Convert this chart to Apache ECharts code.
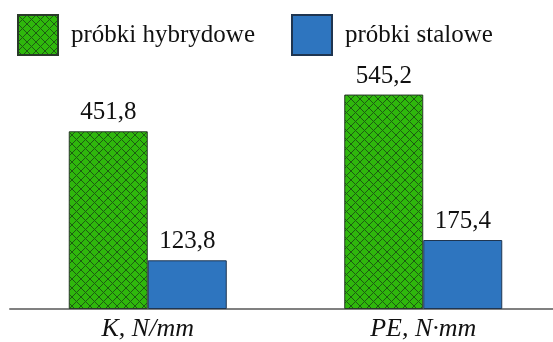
<!DOCTYPE html>
<html>
<head>
<meta charset="utf-8">
<script src="https://cdn.jsdelivr.net/npm/echarts@6/dist/echarts.min.js"></script>
<style>
  html, body { margin: 0; padding: 0; background: #ffffff; overflow: hidden; }
  /* the plot runs a few pixels past the right edge of the page */
  #chart { width: 561px; height: 342px; }
</style>
</head>
<body>
<div id="chart"></div>
<script>
// Categories and measured values
const categories = ['K, N/mm', 'PE, N\u00B7mm'];
const seriesNames = ['próbki hybrydowe', 'próbki stalowe'];
const hybridValues = [451.8, 545.2];
const steelValues = [123.8, 175.4];

// Crosshatch fill for the hybrid-sample bars
function makeHatch() {
  const size = 9;
  const c = document.createElement('canvas');
  c.width = size;
  c.height = size;
  const ctx = c.getContext('2d');
  ctx.fillStyle = '#2fb80c';
  ctx.fillRect(0, 0, size, size);
  ctx.strokeStyle = '#1d5c12';
  ctx.lineWidth = 1;
  ctx.beginPath();
  ctx.moveTo(0, 0); ctx.lineTo(size, size);
  ctx.moveTo(size, 0); ctx.lineTo(0, size);
  ctx.moveTo(-1, size - 1); ctx.lineTo(1, size + 1);
  ctx.moveTo(size - 1, -1); ctx.lineTo(size + 1, 1);
  ctx.moveTo(-1, 1); ctx.lineTo(1, -1);
  ctx.moveTo(size - 1, size + 1); ctx.lineTo(size + 1, size - 1);
  ctx.stroke();
  return c;
}

const hatch = { image: makeHatch(), repeat: 'repeat' };
const serif = '"Liberation Serif", "Times New Roman", serif';

const labelStyle = {
  show: true,
  position: 'top',
  distance: 6,
  fontFamily: serif,
  fontSize: 25,
  color: '#111111',
  formatter: p => String(p.value).replace('.', ',')
};

const chart = echarts.init(document.getElementById('chart'), null, { renderer: 'canvas' });
chart.setOption({
  animation: false,
  backgroundColor: '#ffffff',
  legend: {
    left: 17,
    top: 14,
    padding: 0,
    icon: 'rect',
    itemWidth: 40,
    itemHeight: 40,
    itemGap: 36,
    textStyle: {
      fontFamily: serif,
      fontSize: 25,
      color: '#111111',
      padding: [0, 0, 0, 8]
    },
    data: seriesNames
  },
  grid: { left: 10, right: 0, top: 73, bottom: 31, containLabel: false },
  xAxis: {
    type: 'category',
    data: categories,
    axisLine: { show: true, lineStyle: { color: '#808080', width: 2 } },
    axisTick: { show: false },
    axisLabel: {
      fontFamily: serif,
      fontStyle: 'italic',
      fontSize: 26,
      color: '#111111',
      margin: 7
    }
  },
  yAxis: {
    type: 'value',
    min: 0,
    max: 600,
    show: false,
    splitLine: { show: false }
  },
  series: [
    {
      name: seriesNames[0],
      type: 'bar',
      data: hybridValues,
      barWidth: 79,
      barGap: '0%',
      itemStyle: { color: hatch, borderColor: '#2a3a2a', borderWidth: 1 },
      label: labelStyle
    },
    {
      name: seriesNames[1],
      type: 'bar',
      data: steelValues,
      barWidth: 79,
      itemStyle: { color: '#2e75bf', borderColor: '#1f3550', borderWidth: 1 },
      label: labelStyle
    }
  ]
});
</script>
</body>
</html>
